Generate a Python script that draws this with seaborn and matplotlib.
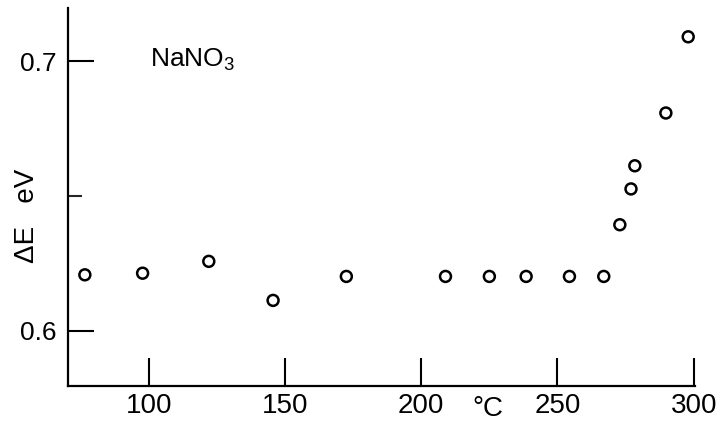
import numpy as np
import pandas as pd
import matplotlib
matplotlib.use('Agg')
import matplotlib.pyplot as plt
import seaborn as sns

# temperature (°C) and activation energy (eV)
temp_c = [76.5, 97.7, 122.0, 145.6, 172.5, 208.9, 225.0, 238.5, 254.4, 267.0,
          272.9, 277.0, 278.4, 289.8, 298.0]
delta_e = [0.6207, 0.6213, 0.6257, 0.6112, 0.6201, 0.6201, 0.6201, 0.6201, 0.6201, 0.6201,
           0.6393, 0.6526, 0.6612, 0.6808, 0.7091]
x_ticks = [100, 150, 200, 250, 300]
y_ticks = [0.6, 0.7]
y_minor = [0.65]

df = pd.DataFrame({'T': temp_c, 'dE': delta_e})

sns.set_style('ticks')
plt.rcParams['font.family'] = ['Liberation Sans', 'DejaVu Sans']
plt.rcParams['text.color'] = 'black'
plt.rcParams['mathtext.fontset'] = 'custom'
plt.rcParams['mathtext.rm'] = 'Liberation Sans'
plt.rcParams['mathtext.it'] = 'Liberation Sans'

fig = plt.figure(figsize=(7.2, 4.3), dpi=100)
ax = fig.add_axes([0.0944, 0.1023, 0.8709, 0.8791])

sns.scatterplot(data=df, x='T', y='dE', ax=ax, marker='o', s=62,
                facecolors='none', edgecolor='black', linewidth=1.8)

ax.set_xlim(70.3, 300.5)
ax.set_ylim(0.5794, 0.7198)
ax.set_xticks(x_ticks)
ax.set_yticks(y_ticks)
ax.set_yticks(y_minor, minor=True)
ax.set_xticklabels([str(t) for t in x_ticks])
ax.set_yticklabels(['0.6', '0.7'])

for side in ['top', 'right']:
    ax.spines[side].set_visible(False)
for side in ['left', 'bottom']:
    ax.spines[side].set_linewidth(1.6)
    ax.spines[side].set_color('black')

ax.tick_params(axis='x', which='major', direction='in', length=20, width=1.5,
               pad=5, labelsize=20, colors='black')
ax.tick_params(axis='y', which='major', direction='in', length=19, width=1.5,
               pad=8, labelsize=19, colors='black')
ax.tick_params(axis='y', which='minor', direction='in', length=10, width=1.5)

ax.set_xlabel('')
ax.set_ylabel('')
fig.text(0.038, 0.497, 'ΔE   eV', rotation=90, ha='center', va='center', fontsize=20)
fig.text(0.678, 0.05, '°C', ha='center', va='center', fontsize=20)
fig.text(0.268, 0.86, 'NaNO$_3$', ha='center', va='center', fontsize=19)

fig.savefig('out.png', dpi=100)
